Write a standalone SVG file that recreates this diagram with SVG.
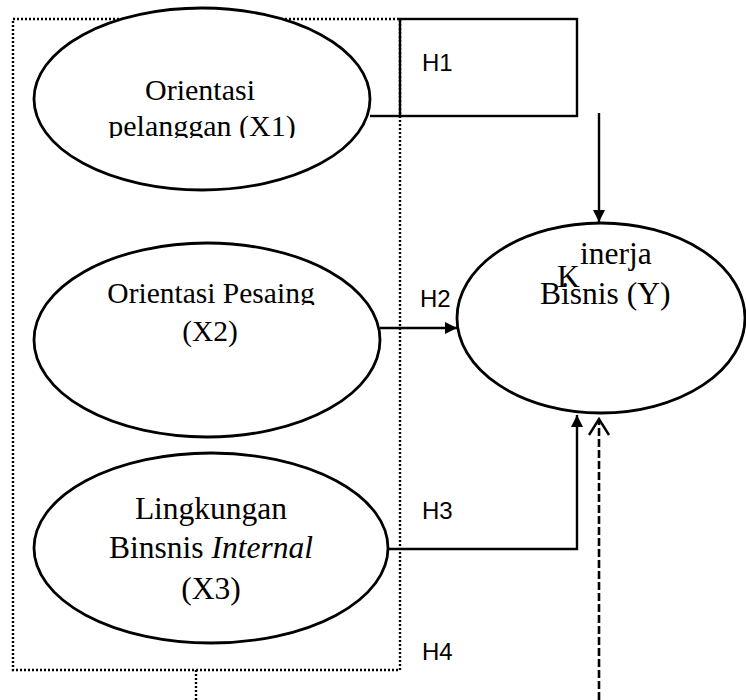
<svg xmlns="http://www.w3.org/2000/svg" width="746" height="700" viewBox="0 0 746 700">
<style>
.node{fill:#fff;stroke:#000;stroke-width:2.8}
.t{font-family:"Liberation Serif","Times New Roman",serif;fill:#000}
.h{font-family:"Liberation Sans",Arial,sans-serif;font-size:24px;fill:#000}
.ln{fill:none;stroke:#000;stroke-width:2.4}
.dot{fill:none;stroke:#000;stroke-width:2.4;stroke-dasharray:2 2}
.dash{fill:none;stroke:#000;stroke-width:2.6;stroke-dasharray:8 3}
</style>
<defs>
<marker id="ah" viewBox="0 0 12 12" refX="12" refY="6" markerWidth="12" markerHeight="12" orient="auto" markerUnits="userSpaceOnUse">
<path d="M0,0 L12,6 L0,12 z" fill="#000"/>
</marker>
<clipPath id="c1"><rect x="30" y="60" width="350" height="78"/></clipPath>
<clipPath id="c2a"><rect x="30" y="260" width="350" height="45"/></clipPath>
<clipPath id="c2b"><rect x="30" y="306" width="350" height="41"/></clipPath>
</defs>
<rect x="0" y="0" width="746" height="700" fill="#fff"/>
<g id="group-box">
<rect class="dot" x="13" y="19" width="387" height="651"/>
<line class="dot" x1="196" y1="670" x2="196" y2="700"/>
</g>
<g id="x1">
<ellipse class="node" cx="202" cy="99" rx="168" ry="91"/>
<g clip-path="url(#c1)">
<text class="t" font-size="30" x="200" y="100" text-anchor="middle">Orientasi</text>
<text class="t" font-size="30" x="202" y="136" text-anchor="middle">pelanggan (X1)</text>
</g>
</g>
<g id="x2">
<ellipse class="node" cx="207" cy="340" rx="173" ry="97"/>
<text class="t" font-size="29.5" x="211" y="303" text-anchor="middle" clip-path="url(#c2a)">Orientasi Pesaing</text>
<text class="t" font-size="29.5" x="210" y="341" text-anchor="middle" clip-path="url(#c2b)">(X2)</text>
</g>
<g id="x3">
<ellipse class="node" cx="211" cy="548" rx="177" ry="95"/>
<text class="t" font-size="31.5" x="211" y="519" text-anchor="middle">Lingkungan</text>
<text class="t" font-size="31.5" x="211" y="558" text-anchor="middle">Binsnis <tspan font-style="italic">Internal</tspan></text>
<text class="t" font-size="31.5" x="211" y="599" text-anchor="middle">(X3)</text>
</g>
<g id="y">
<ellipse class="node" cx="601" cy="318" rx="144" ry="95"/>
<text class="t" font-size="31.5" x="580" y="264">inerja</text>
<text class="t" font-size="31.5" x="557" y="287">K</text>
<text class="t" font-size="31.5" x="540" y="304">Bisnis (Y)</text>
</g>
<g id="h1">
<rect x="400" y="19" width="177" height="97" fill="none" stroke="#000" stroke-width="2.4"/>
<text class="h" x="422" y="71">H1</text>
</g>
<g id="connectors">
<line class="ln" x1="370" y1="116" x2="400" y2="116"/>
<line class="ln" x1="599" y1="113" x2="599" y2="222" marker-end="url(#ah)"/>
<line class="ln" x1="380" y1="328" x2="457" y2="328" marker-end="url(#ah)"/>
<polyline class="ln" points="388,549 577,549 577,415" marker-end="url(#ah)"/>
<line class="dash" x1="599" y1="700" x2="599" y2="420"/>
<polyline class="ln" points="589,435 599,419 609,435"/>
</g>
<g id="labels">
<text class="h" x="420" y="307">H2</text>
<text class="h" x="422" y="519">H3</text>
<text class="h" x="422" y="660">H4</text>
</g>
</svg>
